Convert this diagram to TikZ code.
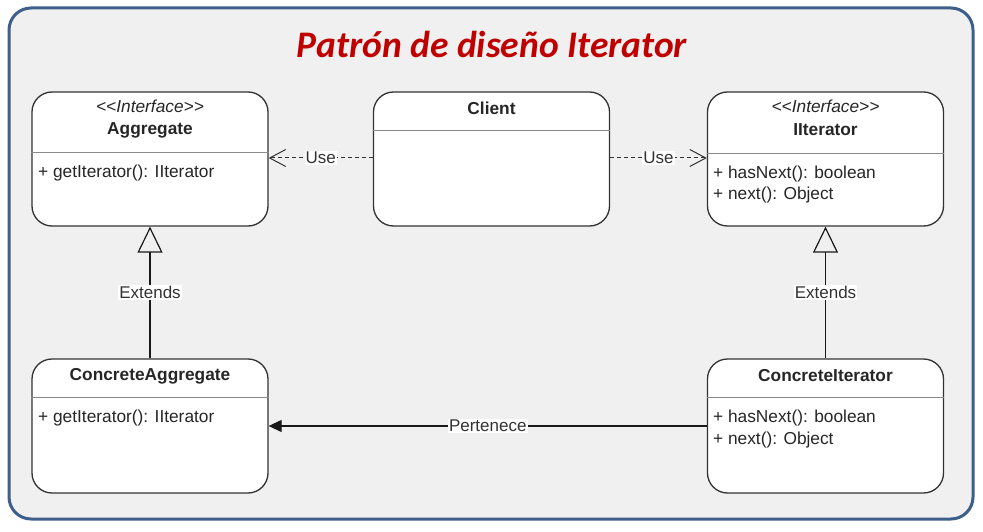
\documentclass[tikz,border=0pt]{standalone}
\usepackage{fontspec}
\setmainfont{Liberation Sans}
\newfontfamily\titlefont{Carlito}
\usetikzlibrary{arrows.meta}
\definecolor{framebl}{HTML}{3E5F8A}
\definecolor{bggray}{HTML}{F0F0F0}
\definecolor{titlered}{HTML}{C00000}
\definecolor{boxline}{HTML}{333333}
\definecolor{divline}{HTML}{8A8A8A}
\tikzset{
  umlbox/.style={draw=boxline, line width=1.3pt, fill=white, rounded corners=20pt, minimum width=236pt, minimum height=134pt, inner sep=0pt},
  divider/.style={draw=divline, line width=1pt},
  txt/.style={font=\fontsize{17.3}{20}\selectfont, inner sep=0pt, text=black!85},
  cname/.style={txt, font=\fontsize{17.3}{20}\selectfont\bfseries},
  stereo/.style={txt, font=\fontsize{17.3}{20}\selectfont\itshape},
  attr/.style={txt, anchor=west},
  elabel/.style={fill=white, inner sep=1pt, font=\fontsize{17}{19}\selectfont, text=black!80},
  usearrow/.style={draw=black!80, line width=1pt, dashed, dash pattern=on 4pt off 3pt, -{Straight Barb[length=16pt,width=17pt,line width=1pt]}},
  extarrow/.style={draw=black!90, line width=1.2pt, -{Triangle[open,length=26pt,width=25pt,line width=1.2pt]}},
  ownarrow/.style={draw=black!90, line width=1.2pt, -{Triangle[length=13pt,width=12pt]}}
}
\newcommand{\stereotxt}[1]{<\kern0pt<#1>\kern0pt>}
\begin{document}
\begin{tikzpicture}[x=1pt,y=-1pt]
\useasboundingbox (0,0) rectangle (983,532);
\fill[white] (0,0) rectangle (983,532);
\draw[draw=framebl, line width=3pt, fill=bggray, rounded corners=22pt] (9,8) rectangle (973,519);
\node[font=\titlefont\fontsize{37.5}{42}\selectfont\bfseries\itshape, text=titlered] (title) at (492,44) {Patrón de diseño Iterator};

% Aggregate
\node[umlbox] (agg) at (150,159) {};
\draw[divider] (agg.west |- 0,153) -- (agg.east |- 0,153);
\node[stereo] (aggst) at (150,106) {\stereotxt{Interface}};
\node[cname] (aggnm) at (150,130) {Aggregate};
\node[attr] (aggop) at (38,173) {+ getIterator(): IIterator};

% Client
\node[umlbox] (cli) at (491.5,159) {};
\draw[divider] (cli.west |- 0,131) -- (cli.east |- 0,131);
\node[cname] (clinm) at (491.5,108) {Client};

% IIterator
\node[umlbox] (iit) at (825.5,159) {};
\draw[divider] (iit.west |- 0,154) -- (iit.east |- 0,154);
\node[stereo] (iitst) at (825.5,106) {\stereotxt{Interface}};
\node[cname] (iitnm) at (825.5,130) {IIterator};
\node[attr] (iitop1) at (713,174) {+ hasNext(): boolean};
\node[attr] (iitop2) at (713,195) {+ next(): Object};

% ConcreteAggregate
\node[umlbox] (cagg) at (150,426) {};
\draw[divider] (cagg.west |- 0,397) -- (cagg.east |- 0,397);
\node[cname] (caggnm) at (150,376) {ConcreteAggregate};
\node[attr] (caggop) at (38,418) {+ getIterator(): IIterator};

% ConcreteIterator
\node[umlbox] (cit) at (825.5,426) {};
\draw[divider] (cit.west |- 0,397) -- (cit.east |- 0,397);
\node[cname] (citnm) at (825.5,376) {ConcreteIterator};
\node[attr] (citop1) at (713,418) {+ hasNext(): boolean};
\node[attr] (citop2) at (713,440) {+ next(): Object};

% connectors
\draw[usearrow] (cli.west |- 0,158) -- node[elabel] {Use} (agg.east |- 0,158);
\draw[usearrow] (cli.east |- 0,158) -- node[elabel] {Use} (iit.west |- 0,158);
\draw[extarrow] (cagg.north) -- node[elabel, pos=0.5] {Extends} (agg.south);
\draw[extarrow] (cit.north) -- node[elabel, pos=0.5] {Extends} (iit.south);
\draw[ownarrow] (cit.west |- 0,426) -- node[elabel] {Pertenece} (cagg.east |- 0,426);
\end{tikzpicture}
\end{document}
